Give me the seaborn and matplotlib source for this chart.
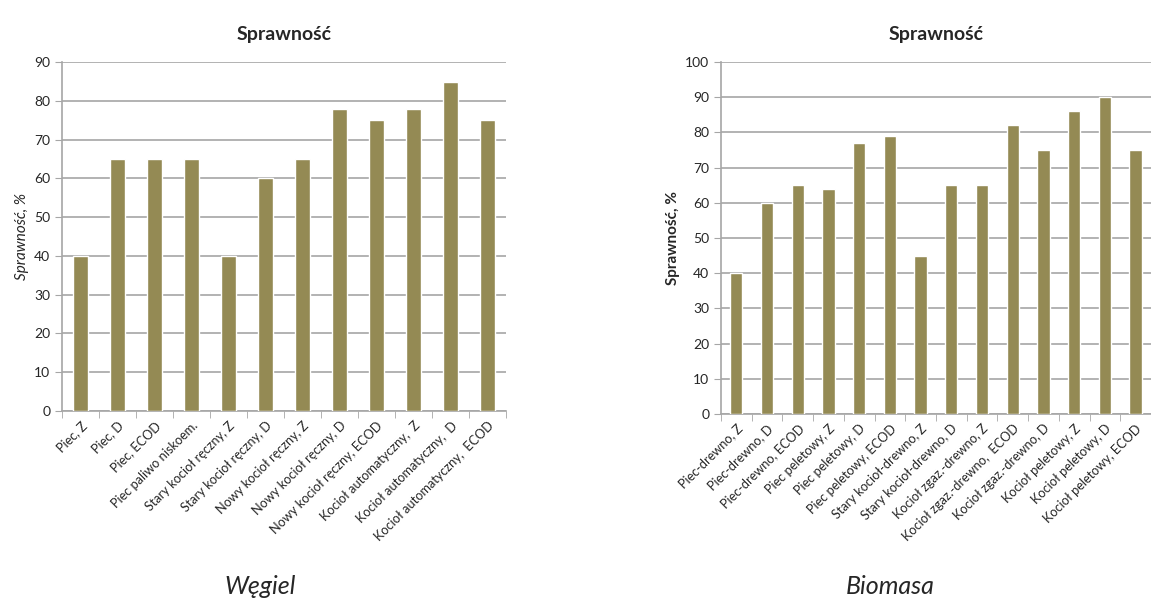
import numpy as np
import pandas as pd
import seaborn as sns
import matplotlib.pyplot as plt
from matplotlib.ticker import FixedLocator

# Data
wegiel_labels = ["Piec, Z", "Piec, D", "Piec, ECOD", "Piec paliwo niskoem.",
                 "Stary kocioł ręczny, Z", "Stary kocioł ręczny, D",
                 "Nowy kocioł ręczny, Z", "Nowy kocioł ręczny, D",
                 "Nowy kocioł ręczny, ECOD", "Kocioł automatyczny,  Z",
                 "Kocioł automatyczny,  D", "Kocioł automatyczny,  ECOD"]
wegiel_values = [40, 65, 65, 65, 40, 60, 65, 78, 75, 78, 85, 75]

biomasa_labels = ["Piec-drewno, Z", "Piec-drewno, D", "Piec-drewno, ECOD",
                  "Piec peletowy, Z", "Piec peletowy, D", "Piec peletowy, ECOD",
                  "Stary kocioł-drewno, Z", "Stary kocioł-drewno, D",
                  "Kocioł zgaz.-drewno, Z", "Kocioł zgaz.-drewno,  ECOD",
                  "Kocioł zgaz.-drewno, D", "Kocioł peletowy, Z",
                  "Kocioł peletowy, D", "Kocioł peletowy, ECOD"]
biomasa_values = [40, 60, 65, 64, 77, 79, 45, 65, 65, 82, 75, 86, 90, 75]

df_w = pd.DataFrame({"kategoria": wegiel_labels, "sprawnosc": wegiel_values})
df_b = pd.DataFrame({"kategoria": biomasa_labels, "sprawnosc": biomasa_values})

sns.set_style("white")
plt.rcParams["font.family"] = ["Lato", "DejaVu Sans"]

bar_color = "#948A54"
grid_color = "#A6A6A6"

fig = plt.figure(figsize=(11.51, 6.12), dpi=100)
ax1 = fig.add_axes([0.0539, 0.3284, 0.386, 0.570])
ax2 = fig.add_axes([0.6264, 0.3235, 0.3736, 0.575])


def style_axis(ax, df, ymax, ylabel_style):
    sns.barplot(data=df, x="kategoria", y="sprawnosc", color=bar_color,
                saturation=1, width=0.4, ax=ax, zorder=3)
    n = len(df)
    ax.set_xlim(-0.5, n - 0.5)
    ax.set_ylim(0, ymax)
    ax.set_yticks(np.arange(0, ymax + 1, 10))
    ax.yaxis.grid(True, color=grid_color, linewidth=1.2, zorder=0)
    ax.set_axisbelow(True)
    for s in ["top", "right"]:
        ax.spines[s].set_visible(False)
    for s in ["left", "bottom"]:
        ax.spines[s].set_color(grid_color)
        ax.spines[s].set_linewidth(1.2)
    ax.set_xticks(range(n))
    ax.set_xticklabels(df["kategoria"], rotation=45, ha="right",
                       rotation_mode="anchor", fontsize=9.2)
    ax.xaxis.set_minor_locator(FixedLocator(np.arange(-0.5, n, 1.0)))
    ax.tick_params(axis="x", which="major", length=0, pad=6)
    ax.tick_params(axis="x", which="minor", length=5, color=grid_color,
                   direction="out", bottom=True)
    ax.tick_params(axis="y", length=5, color=grid_color, direction="out",
                   left=True, labelsize=10)
    ax.set_xlabel("")
    ax.set_title("Sprawność", fontsize=14, fontweight="bold", pad=16)
    if ylabel_style == "italic":
        ax.set_ylabel("Sprawność, %", fontsize=11, fontstyle="italic")
    else:
        ax.set_ylabel("Sprawność, %", fontsize=11, fontweight="bold")


style_axis(ax1, df_w, 90, "italic")
style_axis(ax2, df_b, 100, "bold")

fig.text(0.226, 0.03, "Węgiel", fontsize=18, fontstyle="italic", ha="center")
fig.text(0.773, 0.03, "Biomasa", fontsize=18, fontstyle="italic", ha="center")

fig.savefig("out.png", dpi=100)
